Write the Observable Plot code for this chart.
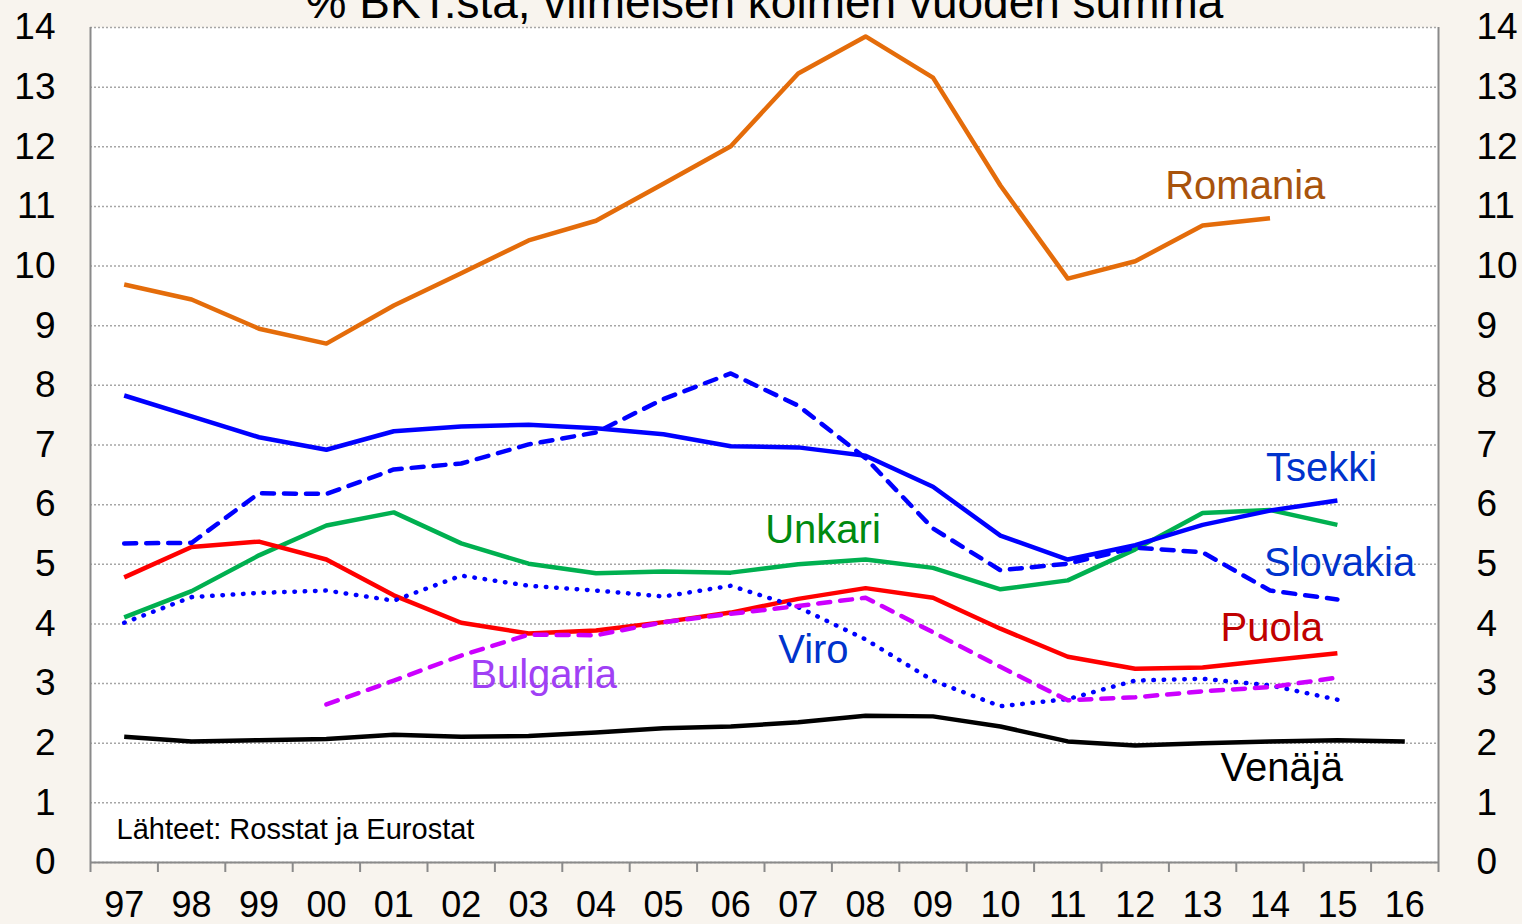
<!DOCTYPE html>
<html><head><meta charset="utf-8">
<script src="https://cdn.jsdelivr.net/npm/d3@7"></script>
<script src="https://cdn.jsdelivr.net/npm/@observablehq/plot@0.6"></script>
<style>
html,body{margin:0;padding:0;background:#f8f4ee;}
#chart svg{display:block;}
</style>
</head><body><div id="chart"></div>
<script>
const title = "% BKT:stä, viimeisen kolmen vuoden summa";
const source = "Lähteet: Rosstat ja Eurostat";
const years = ["97","98","99","00","01","02","03","04","05","06","07","08","09","10","11","12","13","14","15","16"];
const yTicks = [0,1,2,3,4,5,6,7,8,9,10,11,12,13,14];

const romania  = [9.69,9.44,8.95,8.70,9.34,9.88,10.43,10.76,11.38,12.01,13.23,13.85,13.16,11.35,9.79,10.08,10.68,10.80,null,null];
const tsekki   = [7.83,7.48,7.13,6.92,7.23,7.31,7.34,7.28,7.18,6.98,6.96,6.82,6.30,5.48,5.08,5.32,5.66,5.90,6.07,null];
const slovakia = [5.35,5.36,6.19,6.18,6.59,6.69,7.01,7.21,7.77,8.20,7.66,6.78,5.60,4.90,5.01,5.28,5.20,4.56,4.41,null];
const unkari   = [4.11,4.55,5.15,5.65,5.87,5.35,5.01,4.85,4.88,4.86,5.00,5.08,4.94,4.58,4.73,5.25,5.86,5.91,5.66,null];
const puola    = [4.78,5.29,5.38,5.08,4.48,4.02,3.84,3.89,4.03,4.19,4.42,4.60,4.44,3.92,3.45,3.25,3.27,3.39,3.51,null];
const viro     = [4.02,4.45,4.52,4.56,4.39,4.81,4.64,4.56,4.46,4.64,4.28,3.74,3.05,2.62,2.74,3.05,3.08,2.97,2.73,null];
const bulgaria = [null,null,null,2.65,3.05,3.47,3.82,3.81,4.03,4.17,4.30,4.44,3.86,3.28,2.72,2.77,2.87,2.94,3.10,null];
const venaja   = [2.11,2.03,2.05,2.07,2.14,2.11,2.12,2.18,2.25,2.28,2.35,2.46,2.45,2.28,2.03,1.96,2.00,2.03,2.05,2.03];

const rows = arr => years.map((year, i) => ({year, value: arr[i]})).filter(d => d.value != null);

const W = 1522, H = 924;
const mL = 90, mR = 84, mT = 27, mB = 62;
const step = (W - mL - mR) / years.length;
const gray = "#8a8a8a";
const sans = "Liberation Sans, Arial, Helvetica, sans-serif";

const series = [
  {data: romania,  stroke: "#E46C0A"},
  {data: unkari,   stroke: "#00B050"},
  {data: puola,    stroke: "#FF0000"},
  {data: tsekki,   stroke: "#0000FF"},
  {data: slovakia, stroke: "#0000FF", dash: "12,10"},
  {data: viro,     stroke: "#0000FF", dash: "0.5,9.8"},
  {data: bulgaria, stroke: "#CC00FF", dash: "12,10"},
  {data: venaja,   stroke: "#000000"}
];

const labels = [
  {text: "Romania",  x: "12", y: 11.13, dx: 30,  fill: "#A8530C"},
  {text: "Tsekki",   x: "14", y: 6.40,  dx: -4,  fill: "#0033CC"},
  {text: "Slovakia", x: "14", y: 4.81,  dx: -6,  fill: "#0033CC"},
  {text: "Puola",    x: "13", y: 3.71,  dx: 18,  fill: "#C00000"},
  {text: "Unkari",   x: "07", y: 5.35,  dx: -33, fill: "#008A10"},
  {text: "Viro",     x: "07", y: 3.35,  dx: -20, fill: "#0033CC"},
  {text: "Bulgaria", x: "02", y: 2.93,  dx: 9,   fill: "#A040F5"},
  {text: "Venäjä",   x: "13", y: 1.36,  dx: 18,  fill: "#000000"}
];

const marks = [
  Plot.frame({fill: "white", stroke: "none"}),
  Plot.ruleY(yTicks, {stroke: "#a6a6a6", strokeWidth: 1.5, strokeDasharray: "2,2"}),
  Plot.ruleX([years[0]], {dx: -step/2, stroke: gray, strokeWidth: 2}),
  Plot.ruleX([years[years.length-1]], {dx: step/2, stroke: gray, strokeWidth: 2}),
  Plot.ruleY([0], {stroke: gray, strokeWidth: 2}),
  Plot.axisX({ticks: years, dx: -step/2, tickSize: 10, tickFormat: () => "", stroke: gray, strokeWidth: 2}),
  Plot.axisX({ticks: [years[years.length-1]], dx: step/2, tickSize: 10, tickFormat: () => "", stroke: gray, strokeWidth: 2}),
  Plot.text(years, {x: d => d, frameAnchor: "bottom", dy: 29, lineAnchor: "top", fontSize: 36, fill: "black", ariaLabel: "xlabels"}),
  Plot.axisY({anchor: "left", ticks: yTicks, tickSize: 0, tickPadding: 35, fontSize: 37}),
  Plot.axisY({anchor: "right", ticks: yTicks, tickSize: 0, tickPadding: 38, fontSize: 37}),
  ...series.map(s => Plot.line(rows(s.data), {
    x: "year", y: "value", stroke: s.stroke, strokeWidth: 4.5,
    strokeDasharray: s.dash, strokeLinecap: s.dash ? "round" : "butt", strokeLinejoin: "round"
  })),
  ...labels.map(l =>
    Plot.text([l], {x: "x", y: "y", text: "text", dx: l.dx, fill: l.fill, textAnchor: "start", lineAnchor: "bottom", fontSize: 40})
  ),
  Plot.text([source], {frameAnchor: "bottom-left", dx: 26, dy: -24, textAnchor: "start", lineAnchor: "bottom", fontSize: 29, fill: "black"}),
  Plot.text([title], {frameAnchor: "top", dy: -10, lineAnchor: "bottom", fontSize: 46, fill: "black"})
];

const chart = Plot.plot({
  width: W, height: H,
  marginLeft: mL, marginRight: mR, marginTop: mT, marginBottom: mB,
  style: {background: "transparent", fontFamily: sans, fontSize: "37px", color: "black", overflow: "visible"},
  x: {type: "point", domain: years, padding: 0.5, round: false},
  y: {domain: [0, 14]},
  marks
});
// condensed year labels, as in the reference
d3.select(chart).selectAll('g[aria-label="xlabels"] text')
  .attr("textLength", 33).attr("lengthAdjust", "spacingAndGlyphs");
document.getElementById("chart").appendChild(chart);
</script>
</body></html>
